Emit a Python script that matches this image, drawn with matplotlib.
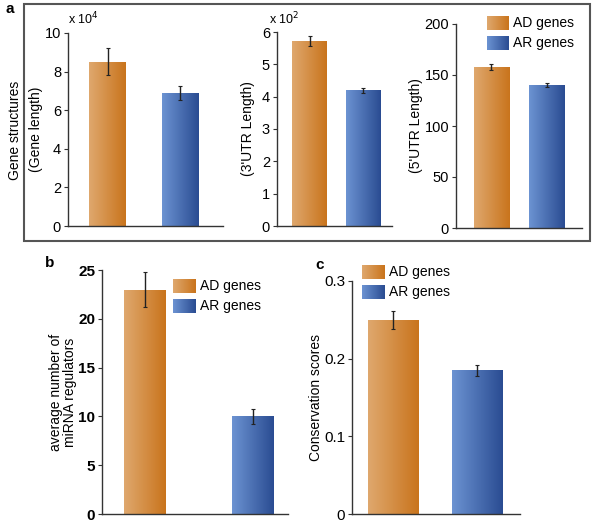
import numpy as np
import matplotlib
matplotlib.use("Agg")
import matplotlib.pyplot as plt
from matplotlib.patches import Rectangle
from matplotlib.colors import LinearSegmentedColormap

plt.rcParams['font.family'] = ['Liberation Sans', 'DejaVu Sans']

groups = ["AD genes", "AR genes"]

# panel a
gene_len = [8.5, 6.9]          # x 10^4
gene_len_err = [0.7, 0.35]
utr3_len = [5.72, 4.2]         # x 10^2
utr3_err = [0.15, 0.08]
utr5_len = [158, 140]
utr5_err = [3, 2]

# panel b
mirna = [23, 10]
mirna_err = [1.8, 0.8]

# panel c
conserv = [0.25, 0.185]
conserv_err = [0.012, 0.007]

W, H = 593, 522
orange = LinearSegmentedColormap.from_list("o", ["#DFA86E", "#C9741C"])
blue = LinearSegmentedColormap.from_list("b", ["#6C93D2", "#2A4C92"])
cmaps = [orange, blue]

fig = plt.figure(figsize=(W / 100, H / 100), dpi=100)


def px_axes(left, right, top, bottom):
    return fig.add_axes([left / W, 1 - bottom / H, (right - left) / W, (bottom - top) / H])


def grad_bars(ax, vals, errs, width, xlim, ylim, ticks, ticklabels=None, bold=False, fs=10.5):
    x = np.arange(len(vals))
    bars = ax.bar(x, vals, width=width, color="none", edgecolor="none")
    grad = np.linspace(0, 1, 256).reshape(1, -1)
    for b, cm in zip(bars, cmaps):
        im = ax.imshow(grad, cmap=cm, aspect="auto", origin="lower",
                       extent=[b.get_x(), b.get_x() + b.get_width(), 0, b.get_height()],
                       zorder=2)
        im.set_clip_path(b)
    ax.errorbar(x, vals, yerr=errs, fmt="none", ecolor="#222222", elinewidth=1.0,
                capsize=1.5, capthick=0.8, zorder=3)
    ax.set_xlim(*xlim)
    ax.set_ylim(*ylim)
    ax.set_yticks(ticks)
    if ticklabels is not None:
        ax.set_yticklabels(ticklabels)
    ax.set_xticks([])
    for s in ["top", "right"]:
        ax.spines[s].set_visible(False)
    for s in ["left", "bottom"]:
        ax.spines[s].set_color("#333333")
        ax.spines[s].set_linewidth(1.0)
    ax.tick_params(axis="y", length=3, width=0.8, color="#333333", labelsize=fs, pad=2)
    if bold:
        for t in ax.get_yticklabels():
            t.set_fontweight("bold")
    ax.patch.set_alpha(0)


def legend(ax_x, y0, fs=10):
    for i, (g, c) in enumerate(zip(groups, cmaps)):
        x0, x1, ya, yb = ax_x[0], ax_x[1], y0 + i * 20, y0 + i * 20 + 14
        a = px_axes(x0, x1, ya, yb)
        a.imshow(np.linspace(0, 1, 64).reshape(1, -1), cmap=c, aspect="auto")
        a.axis("off")
        fig.text((x1 + 4) / W, 1 - (ya + yb) / 2 / H, g, fontsize=fs, va="center", ha="left")


# panel a frame
fig.patches.append(Rectangle((24 / W, 1 - 241 / H), (590 - 24) / W, (241 - 4) / H,
                             transform=fig.transFigure, fill=False, edgecolor="#555555",
                             linewidth=1.5))
fig.text(5 / W, 1 - 9 / H, "a", fontsize=11, fontweight="bold", va="center")
fig.text(15 / W, 1 - 130 / H, "Gene structures", fontsize=10, rotation=90, va="center", ha="center")

ax1 = px_axes(68, 223, 33, 226)
grad_bars(ax1, gene_len, gene_len_err, 0.51, (-0.55, 1.59), (0, 10), [0, 2, 4, 6, 8, 10])
ax1.set_ylabel("(Gene length)", fontsize=10, labelpad=1)
fig.text(68 / W, 1 - 19 / H, r"x 10$^4$", fontsize=9, va="center")

ax2 = px_axes(277, 392, 32, 226)
grad_bars(ax2, utr3_len, utr3_err, 0.65, (-0.61, 1.54), (0, 6), [0, 1, 2, 3, 4, 5, 6])
ax2.set_ylabel("(3'UTR Length)", fontsize=10, labelpad=5)
fig.text(269 / W, 1 - 19 / H, r"x 10$^2$", fontsize=9, va="center")

ax3 = px_axes(456, 582, 24, 228)
grad_bars(ax3, utr5_len, utr5_err, 0.64, (-0.645, 1.645), (0, 200), [0, 50, 100, 150, 200])
ax3.set_ylabel("(5'UTR Length)", fontsize=10, labelpad=1)
legend((487, 509), 16)

# panel b
fig.text(45 / W, 1 - 263 / H, "b", fontsize=11, fontweight="bold", va="center")
axb = px_axes(102, 288, 270, 514)
grad_bars(axb, mirna, mirna_err, 0.39, (-0.4, 1.33), (0, 25), [0, 5, 10, 15, 20, 25],
          bold=True, fs=11)
axb.set_ylabel("average number of\nmiRNA regulators", fontsize=10, labelpad=1, linespacing=1.0)
legend((173, 196), 279)

# panel c
fig.text(315 / W, 1 - 265 / H, "c", fontsize=11, fontweight="bold", va="center")
axc = px_axes(352, 520, 281, 514)
grad_bars(axc, conserv, conserv_err, 0.6, (-0.49, 1.51), (0, 0.3), [0, 0.1, 0.2, 0.3],
          ticklabels=["0", "0.1", "0.2", "0.3"], fs=11)
axc.set_ylabel("Conservation scores", fontsize=10, labelpad=1)
legend((362, 385), 265)

fig.savefig("out.png", dpi=100)
